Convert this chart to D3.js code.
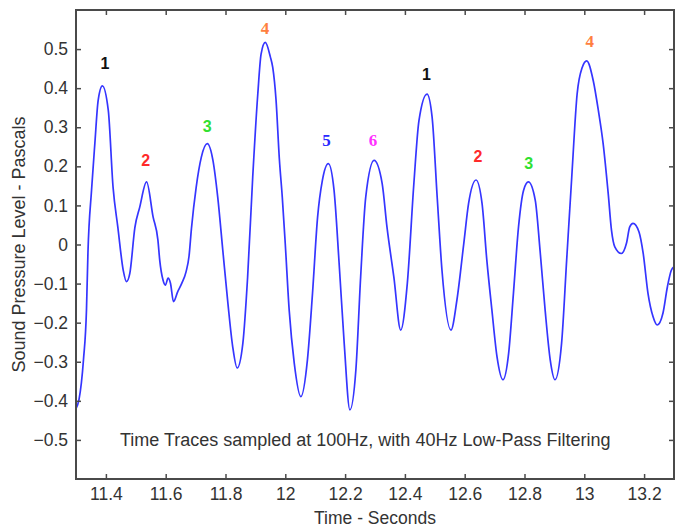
<!DOCTYPE html>
<html>
<head>
<meta charset="utf-8">
<script src="https://cdn.jsdelivr.net/npm/d3@7"></script>
<style>
  html, body { margin: 0; padding: 0; background: #fff; }
  svg { display: block; }
</style>
</head>
<body>
<svg id="chart" width="678" height="527"></svg>
<script>
// ---- data ----
const times = [
  11.300, 11.310, 11.325, 11.335, 11.340, 11.352, 11.363, 11.374, 11.388, 11.408,
  11.424, 11.440, 11.458, 11.469, 11.480, 11.497, 11.513, 11.536, 11.558, 11.574,
  11.580, 11.591, 11.599, 11.608, 11.616, 11.626, 11.640, 11.654, 11.668, 11.678,
  11.686, 11.702, 11.719, 11.739, 11.758, 11.774, 11.791, 11.808, 11.824, 11.839,
  11.858, 11.874, 11.891, 11.908, 11.919, 11.933, 11.950, 11.958, 11.969, 11.980,
  11.990, 12.000, 12.013, 12.030, 12.052, 12.074, 12.091, 12.108, 12.124, 12.144,
  12.163, 12.180, 12.197, 12.216, 12.236, 12.252, 12.269, 12.297, 12.324, 12.340,
  12.363, 12.386, 12.408, 12.430, 12.447, 12.474, 12.491, 12.508, 12.524, 12.554,
  12.574, 12.597, 12.613, 12.638, 12.658, 12.674, 12.691, 12.708, 12.728, 12.747,
  12.763, 12.780, 12.797, 12.813, 12.836, 12.852, 12.869, 12.886, 12.902, 12.924,
  12.941, 12.958, 12.976, 12.993, 13.008, 13.030, 13.047, 13.063, 13.080, 13.091,
  13.102, 13.124, 13.141, 13.152, 13.163, 13.183, 13.197, 13.213, 13.230, 13.244,
  13.263, 13.278, 13.291, 13.300
];
const pressure = [
  -0.420, -0.397, -0.295, -0.168, -0.020, 0.139, 0.258, 0.368, 0.406, 0.343,
   0.146, 0.044, -0.066, -0.095, -0.074, 0.044, 0.095, 0.160, 0.070, 0.011,
  -0.040, -0.091, -0.104, -0.086, -0.099, -0.146, -0.121, -0.099, -0.070, -0.030,
   0.040, 0.147, 0.223, 0.258, 0.215, 0.121, -0.015, -0.150, -0.261, -0.316,
  -0.253, -0.083, 0.172, 0.385, 0.487, 0.517, 0.480, 0.453, 0.370, 0.220,
   0.120, 0.000, -0.168, -0.304, -0.389, -0.295, -0.125, 0.070, 0.164, 0.207,
   0.139, -0.048, -0.253, -0.423, -0.321, -0.083, 0.121, 0.215, 0.156, 0.045,
  -0.083, -0.219, -0.100, 0.156, 0.317, 0.385, 0.326, 0.121, -0.066, -0.219,
  -0.142, 0.003, 0.105, 0.165, 0.105, -0.040, -0.168, -0.287, -0.346, -0.278,
  -0.125, 0.045, 0.139, 0.160, 0.113, -0.015, -0.168, -0.295, -0.346, -0.253,
  -0.040, 0.172, 0.385, 0.453, 0.470, 0.419, 0.343, 0.258, 0.130, 0.036,
  -0.006, -0.023, 0.003, 0.045, 0.054, 0.032, -0.023, -0.125, -0.185, -0.206,
  -0.176, -0.108, -0.066, -0.057
];

const peakLabels = ["1", "2", "3", "4", "5", "6", "1", "2", "3", "4"];
const peakLabelTimes = [11.397, 11.533, 11.739, 11.932, 12.138, 12.293, 12.472, 12.644, 12.814, 13.018];
const peakLabelValues = [0.464, 0.216, 0.301, 0.553, 0.267, 0.267, 0.436, 0.225, 0.208, 0.519];
const peakColors = {"1": "#111111", "2": "#ff2a2a", "3": "#30e030", "4": "#ff7f40", "5": "#2a2aff", "6": "#ff30ff"};
const serifLabels = ["4", "5", "6"];

const xTicks = [11.4, 11.6, 11.8, 12, 12.2, 12.4, 12.6, 12.8, 13, 13.2];
const yTicks = [-0.5, -0.4, -0.3, -0.2, -0.1, 0, 0.1, 0.2, 0.3, 0.4, 0.5];
const xDomain = [11.3, 13.3];
const yDomain = [-0.6, 0.6];

const annotation = "Time Traces sampled at 100Hz, with 40Hz Low-Pass Filtering";
const annotationAt = [11.447, -0.5];
const xTitle = "Time - Seconds";
const yTitle = "Sound Pressure Level - Pascals";

// ---- drawing ----
(function () {
const svg = d3.select("#chart");
const mLeft = 76, mRight = 674, mTop = 10, mBottom = 479;
const x = d3.scaleLinear().domain(xDomain).range([mLeft, mRight]);
const y = d3.scaleLinear().domain(yDomain).range([mBottom, mTop]);

const axisColor = "#4a4a4a";
const textColor = "#333";
const fontFam = "Liberation Sans, Arial, sans-serif";
const axisFont = "17.5px";

// curve
const pts = times.map((t, i) => [t, pressure[i]]);
const line = d3.line().x(d => x(d[0])).y(d => y(d[1])).curve(d3.curveMonotoneX);
svg.append("path")
  .datum(pts)
  .attr("d", line)
  .attr("fill", "none")
  .attr("stroke", "#3535ff")
  .attr("stroke-width", 1.7)
  .attr("stroke-linejoin", "round");

// axes (ticks inward, on all four sides)
const tickLen = 5;
const fmt = d => d3.format("")(d);
const gB = svg.append("g").attr("transform", `translate(0,${mBottom})`)
  .call(d3.axisBottom(x).tickValues(xTicks).tickSize(-tickLen).tickPadding(9).tickFormat(fmt));
const gT = svg.append("g").attr("transform", `translate(0,${mTop})`)
  .call(d3.axisTop(x).tickValues(xTicks).tickSize(-tickLen).tickFormat(""));
const gL = svg.append("g").attr("transform", `translate(${mLeft},0)`)
  .call(d3.axisLeft(y).tickValues(yTicks).tickSize(-tickLen).tickPadding(8).tickFormat(fmt));
const gR = svg.append("g").attr("transform", `translate(${mRight},0)`)
  .call(d3.axisRight(y).tickValues(yTicks).tickSize(-tickLen).tickFormat(""));

[gB, gT, gL, gR].forEach(g => {
  g.select(".domain").remove();
  g.selectAll(".tick line").attr("stroke", axisColor).attr("stroke-width", 1.5);
  g.selectAll(".tick text")
    .attr("fill", textColor)
    .style("font-family", fontFam)
    .style("font-size", axisFont);
});

// frame
svg.append("rect")
  .attr("x", mLeft).attr("y", mTop)
  .attr("width", mRight - mLeft).attr("height", mBottom - mTop)
  .attr("fill", "none")
  .attr("stroke", axisColor)
  .attr("stroke-width", 2);

// peak labels
svg.append("g").selectAll("text")
  .data(peakLabels)
  .join("text")
  .attr("x", (d, i) => x(peakLabelTimes[i]))
  .attr("y", (d, i) => y(peakLabelValues[i]))
  .attr("text-anchor", "middle")
  .attr("dominant-baseline", "central")
  .attr("fill", d => peakColors[d])
  .style("font-family", d => serifLabels.includes(d) ? "Liberation Serif, serif" : fontFam)
  .style("font-weight", "bold")
  .style("font-size", d => serifLabels.includes(d) ? "17px" : "16px")
  .text(d => d);

// annotation
svg.append("text")
  .attr("x", x(annotationAt[0]))
  .attr("y", y(annotationAt[1]))
  .attr("dominant-baseline", "central")
  .attr("fill", textColor)
  .style("font-family", fontFam)
  .style("font-size", "18px")
  .text(annotation);

// axis titles
svg.append("text")
  .attr("x", (mLeft + mRight) / 2)
  .attr("y", 518)
  .attr("text-anchor", "middle")
  .attr("dominant-baseline", "central")
  .attr("fill", textColor)
  .style("font-family", fontFam)
  .style("font-size", axisFont)
  .text(xTitle);

svg.append("text")
  .attr("transform", `translate(19,${(mTop + mBottom) / 2}) rotate(-90)`)
  .attr("text-anchor", "middle")
  .attr("dominant-baseline", "central")
  .attr("fill", textColor)
  .style("font-family", fontFam)
  .style("font-size", "18px")
  .text(yTitle);
})();
</script>
</body>
</html>
